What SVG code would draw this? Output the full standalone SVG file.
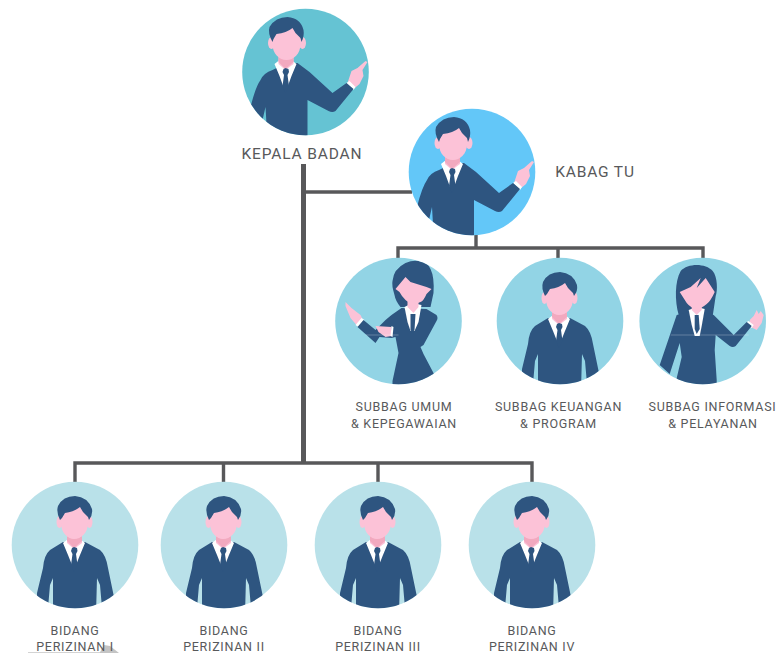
<svg xmlns="http://www.w3.org/2000/svg" width="776" height="653" viewBox="0 0 776 653">
<style>
.suit{fill:#2e5580}.skin{fill:#fcc2d7}.shade{fill:#f2a9bf}.wh{fill:#fff}
.lbl{font-family:"Roboto","Liberation Sans",sans-serif;fill:#58595b;text-anchor:middle;font-size:12.5px;letter-spacing:.72px}
.big{font-size:15.5px;letter-spacing:.85px}
.bus{fill:none;stroke:#58585a;stroke-width:3.4}
.trunk{fill:none;stroke:#58585a;stroke-width:5}
.faint{stroke:#fff;stroke-opacity:.25;stroke-width:1;fill:none}
</style>
<defs>
<clipPath id="cc"><circle r="63.3"/></clipPath>
<g id="man" clip-path="url(#cc)">
<path class="suit" d="M-25 5L-12-3H10L25 5Q31 10 33 23L39 52V57L27 63L25 40L22 33L21 70H-22V33L-25 40L-27 63L-38 55V48L-32 23Q-31 10-25 5Z"/>
<path class="wh" d="M-12-2L-7-6H5L10-2L5 10L1 20H-3L-7 10Z"/>
<path class="skin" d="M-8-12H7V-2L-1 4L-8-2Z"/>
<path class="shade" d="M-8-9Q-1-4 7-9V-4L-1 3L-8-4Z"/>
<path class="suit" d="M-3 3L-1 2L2 3L2.500 6L1 9L2.500 20L-1 27L-4 20L-2.500 9L-4 6Z"/>
<ellipse class="skin" cx="-15.500" cy="-23" rx="3" ry="6"/><ellipse class="skin" cx="14.500" cy="-23" rx="3" ry="6"/>
<path class="skin" d="M-14-32Q-14-40 0-40Q14-40 13-30V-22C13-12 6-6-1-6C-7-6-14-12-14-22Z"/>
<path class="suit" d="M-15-25Q-19-33-17-39Q-12-49 0-49Q13-48 17-36Q18-30 14-25L13-28L8-33L5-38Q-1-33-10-32L-13-27Z"/>
</g>
<g id="pointer" clip-path="url(#cc)">
<path class="skin" d="M42 11L46-1L52-4L60-11L62-10L57-2L58 4L54 12L48 17Z"/>
<path class="wh" d="M41 11L44 9L50 15L48 18Z"/>
<path class="suit" d="M-33-2L-19-9L-8-9L4 0L27 21L41 11L48 17L30 39Q27 41 23 39L2 28L2 70L-38 70L-40 35L-43 48L-55 35Q-50 15-45 8Q-42 1-33-2Z"/>
<path class="wh" d="M-31-8L-26-12H-14L-9-8L-14 4L-18 15H-22L-26 4Z"/>
<path class="skin" d="M-27-18H-12V-8L-20-2L-27-8Z"/>
<path class="shade" d="M-27-15Q-20-10-12-15V-10L-20-3L-27-10Z"/>
<path class="suit" d="M-22-3L-20-4L-17-3L-16.500 0L-18 3L-16.500 14L-20 21L-23 14L-21.500 3L-23 0Z"/>
<ellipse class="skin" cx="-34" cy="-29" rx="3.500" ry="6"/><ellipse class="skin" cx="-3" cy="-29" rx="3.500" ry="6"/>
<path class="skin" d="M-33-38Q-33-46-19-46Q-5-46-5-36V-28C-5-18-12-12-19-12C-26-12-33-18-33-28Z"/>
<path class="suit" d="M-33-30Q-38-39-36-45Q-30-55-18-55Q-5-54-2-42Q-1-36-4-30L-5-34L-10-39L-13-44Q-19-39-29-38L-32-33Z"/>
</g>
</defs>
<g id="connectors">
<path class="trunk" d="M303.500 164V463"/>
<path class="bus" d="M306 192H412"/>
<path class="bus" d="M476 234V248M398 258V248H703V258M558 248V258"/>
<path class="bus" d="M75 482V463H532V482M223.500 463V482M378 463V482"/>
</g>
<g id="kepala-badan">
<circle cx="305.500" cy="72" r="63.300" fill="#65c3d3"/><use href="#pointer" x="305.500" y="72"/>
<text class="lbl big" x="302" y="159">KEPALA BADAN</text>
</g>
<g id="kabag-tu">
<circle cx="472" cy="172" r="63.300" fill="#63c7f8"/><use href="#pointer" x="472" y="172"/>
<text class="lbl big" x="595" y="177">KABAG TU</text>
</g>
<g id="subbag-umum">
<circle cx="398.500" cy="321" r="63.300" fill="#92d4e5"/>
<g transform="translate(398.500 321)" clip-path="url(#cc)">
<path class="suit" d="M2-14Q-3-20-4-26Q-7-36-6-40Q-5-52 7-58Q14-61 20-60Q29-59 32-52Q36-44 35-28L32-14Z"/>
<path class="skin" d="M-53-19L-47-13L-38-6L-36-2L-42 4L-48-3L-53-15Z"/>
<path class="wh" d="M-43 4L-37-3L-34-1L-40 6Z"/>
<path class="suit" d="M3-13L28-12L38-6Q40-3 38 0L25 24L22 26L25 33L35 52L37 58L20 70H-6L-6 60L0 32L-3 16L-7 17L-19 16L-23 22L-41 6L-35-1L-23 9L-13-1L-7-6Z"/>
<path class="wh" d="M6-14L14-18L23-16L20 1L16 10H12L9 1Z"/>
<path class="suit" d="M12-7H17L16 9L14 12L12 9Z"/>
<path class="skin" d="M9-24H20V-14L15-8L9-14Z"/>
<path class="skin" d="M-3-32L7-44L12-39L28-34L33-32L28-27Q25-20 22-19Q18-17 15-18Q10-18 7-21Q3-25 1-29Z"/>
<path class="skin" d="M-23 5L-7 6L-7 15L-13 16L-20 11Z"/>
<path class="wh" d="M-7 5L-5 6L-6 16L-8 15Z"/>
<path class="faint" d="M-33 14H0"/>
</g>
<text class="lbl" x="404" y="411">SUBBAG UMUM</text><text class="lbl" x="404" y="428">&amp; KEPEGAWAIAN</text>
</g>
<g id="subbag-keuangan">
<circle cx="560" cy="321" r="63.300" fill="#92d4e5"/><use href="#man" x="560" y="321"/>
<text class="lbl" x="558.500" y="411">SUBBAG KEUANGAN</text><text class="lbl" x="558.500" y="428">&amp; PROGRAM</text>
</g>
<g id="subbag-informasi">
<circle cx="702.700" cy="321" r="63.300" fill="#92d4e5"/>
<g transform="translate(702.700 321)" clip-path="url(#cc)">
<path class="suit" d="M-24-6C-28-20-28-40-22-50C-15-58 3-58 10-50C15-44 15-30 13-25L10-5Z"/>
<path class="skin" d="M47-1L51-5L54-11L56-7L58-10L61-6L59 2L54 9L48 6Z"/>
<path class="wh" d="M44 1L46 0L51 4L49 7Z"/>
<path class="suit" d="M-26-6L-14-9H2L11-6L31 14L44 1L49 5L33 25Q30 27 27 25L13 14L12 29L14 59L14 70H-26L-26 57L-21 36L-23 22L-33 53L-43 44Z"/>
<path class="wh" d="M-14-11L-6-14L2-12L-1 5L-3 15H-8L-11 4Z"/>
<path class="suit" d="M-8-6H-4L-3 8L-6 13L-8 8Z"/>
<path class="skin" d="M-11-18H-1V-11L-6-6L-11-11Z"/>
<path class="skin" d="M-23-29L-12-34L-2-43L-6-33L3-43L12-29Q8-20 4-17Q-2-12-6-12Q-12-13-16-18Z"/>
<path class="faint" d="M-32 14H46"/>
</g>
<text class="lbl" x="712.500" y="411">SUBBAG INFORMASI</text><text class="lbl" x="713" y="428">&amp; PELAYANAN</text>
</g>
<g id="bidang-1">
<circle cx="75" cy="545" r="63.300" fill="#b9e1e9"/><use href="#man" x="75" y="545"/>
<path d="M28 652.200H100L104 645L110 646L119 653H28Z" fill="#8a8a8a" fill-opacity=".5"/>
<text class="lbl" x="75" y="635">BIDANG</text><text class="lbl" x="75" y="651">PERIZINAN I</text>
</g>
<g id="bidang-2">
<circle cx="224" cy="545" r="63.300" fill="#b9e1e9"/><use href="#man" x="224" y="545"/>
<text class="lbl" x="224" y="635">BIDANG</text><text class="lbl" x="224" y="651">PERIZINAN II</text>
</g>
<g id="bidang-3">
<circle cx="378" cy="545" r="63.300" fill="#b9e1e9"/><use href="#man" x="378" y="545"/>
<text class="lbl" x="378" y="635">BIDANG</text><text class="lbl" x="378" y="651">PERIZINAN III</text>
</g>
<g id="bidang-4">
<circle cx="532" cy="545" r="63.300" fill="#b9e1e9"/><use href="#man" x="532" y="545"/>
<text class="lbl" x="532" y="635">BIDANG</text><text class="lbl" x="532" y="651">PERIZINAN IV</text>
</g>
</svg>
